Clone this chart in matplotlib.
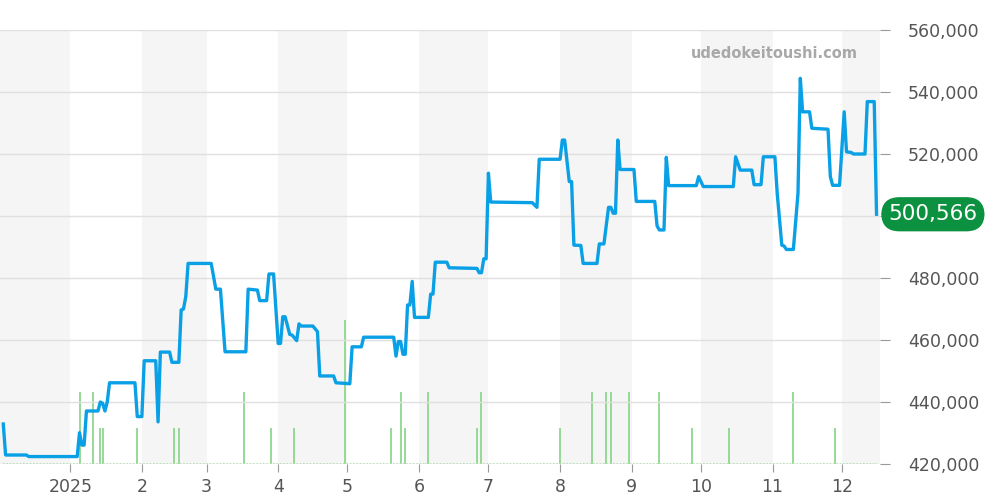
import matplotlib
matplotlib.use('Agg')
import matplotlib.pyplot as plt
import numpy as np
import pandas as pd

# price history
price_dates = [
    '2024-12-03', '2024-12-04', '2024-12-13', '2024-12-14', '2025-01-04', '2025-01-05',
    '2025-01-06', '2025-01-07', '2025-01-08', '2025-01-13', '2025-01-14', '2025-01-15',
    '2025-01-16', '2025-01-17', '2025-01-18', '2025-01-29', '2025-01-30', '2025-02-01',
    '2025-02-02', '2025-02-07', '2025-02-08', '2025-02-09', '2025-02-13', '2025-02-14',
    '2025-02-17', '2025-02-18', '2025-02-19', '2025-02-20', '2025-02-21', '2025-03-03',
    '2025-03-05', '2025-03-07', '2025-03-09', '2025-03-18', '2025-03-19', '2025-03-23',
    '2025-03-24', '2025-03-27', '2025-03-28', '2025-03-30', '2025-04-01', '2025-04-02',
    '2025-04-03', '2025-04-04', '2025-04-06', '2025-04-07', '2025-04-09', '2025-04-10',
    '2025-04-11', '2025-04-16', '2025-04-18', '2025-04-19', '2025-04-25', '2025-04-26',
    '2025-05-02', '2025-05-03', '2025-05-07', '2025-05-08', '2025-05-21', '2025-05-22',
    '2025-05-23', '2025-05-24', '2025-05-25', '2025-05-26', '2025-05-27', '2025-05-28',
    '2025-05-29', '2025-05-30', '2025-06-05', '2025-06-06', '2025-06-07', '2025-06-08',
    '2025-06-13', '2025-06-14', '2025-06-26', '2025-06-27', '2025-06-28', '2025-06-29',
    '2025-06-30', '2025-07-01', '2025-07-02', '2025-07-20', '2025-07-22', '2025-07-23',
    '2025-08-01', '2025-08-02', '2025-08-03', '2025-08-05', '2025-08-06', '2025-08-07',
    '2025-08-10', '2025-08-11', '2025-08-17', '2025-08-18', '2025-08-20', '2025-08-22',
    '2025-08-23', '2025-08-24', '2025-08-25', '2025-08-26', '2025-08-27', '2025-09-02',
    '2025-09-03', '2025-09-11', '2025-09-12', '2025-09-13', '2025-09-15', '2025-09-16',
    '2025-09-17', '2025-09-29', '2025-09-30', '2025-10-02', '2025-10-15', '2025-10-16',
    '2025-10-18', '2025-10-23', '2025-10-24', '2025-10-27', '2025-10-28', '2025-11-02',
    '2025-11-03', '2025-11-05', '2025-11-06', '2025-11-07', '2025-11-10', '2025-11-12',
    '2025-11-13', '2025-11-14', '2025-11-17', '2025-11-18', '2025-11-25', '2025-11-26',
    '2025-11-27', '2025-11-30', '2025-12-02', '2025-12-03', '2025-12-05', '2025-12-06',
    '2025-12-11', '2025-12-12', '2025-12-15', '2025-12-16',
]
prices = [
    432900, 422900, 422900, 422400, 422400, 430100,
    426100, 426100, 437100, 437100, 440000, 439600,
    437100, 440000, 446200, 446200, 435300, 435300,
    453300, 453300, 433600, 456100, 456100, 452800,
    452800, 469700, 470000, 474000, 484700, 484700,
    476400, 476400, 456200, 456200, 476400, 476100,
    472700, 472700, 481300, 481300, 458900, 458900,
    467500, 467500, 461800, 461600, 459800, 465200,
    464500, 464500, 462700, 448400, 448400, 446200,
    445900, 457800, 457800, 460900, 460900, 454800,
    459500, 459500, 455400, 455400, 471300, 471300,
    478900, 467300, 467300, 474800, 474800, 485100,
    485100, 483300, 483100, 481700, 481700, 486200,
    486200, 513800, 504500, 504300, 502800, 518300,
    518300, 524500, 524500, 511100, 511100, 490600,
    490500, 484700, 484700, 491000, 491000, 502800,
    502800, 500900, 500900, 524500, 515000, 515000,
    504700, 504700, 496800, 495500, 495500, 518900,
    509800, 509800, 512700, 509500, 509500, 519100,
    514800, 514800, 510100, 510100, 519100, 519100,
    507300, 490600, 490300, 489200, 489200, 507300,
    544400, 533600, 533600, 528300, 528000, 512700,
    509900, 509900, 533600, 520700, 520500, 520000,
    520000, 536900, 536900, 500566,
]

# number of trades per day
volume_dates = [
    '2025-01-05', '2025-01-11', '2025-01-14', '2025-01-15', '2025-01-30', '2025-02-15',
    '2025-02-17', '2025-03-17', '2025-03-29', '2025-04-08', '2025-04-30', '2025-05-20',
    '2025-05-24', '2025-05-26', '2025-06-05', '2025-06-26', '2025-06-28', '2025-08-01',
    '2025-08-15', '2025-08-21', '2025-08-23', '2025-08-31', '2025-09-13', '2025-09-27',
    '2025-10-13', '2025-11-10', '2025-11-28',
]
volumes = [2, 2, 1, 1, 1, 1, 1, 2, 1, 1, 4, 1, 2, 1, 2, 1, 2, 1, 2, 2, 2, 2, 2, 1, 1, 2, 1]

month_starts = pd.date_range('2024-12-01', '2026-01-01', freq='MS')
tick_dates = pd.date_range('2025-01-01', '2025-12-01', freq='MS')
tick_labels = ['2025', '2', '3', '4', '5', '6', '7', '8', '9', '10', '11', '12']
y_ticks = [420000, 440000, 460000, 480000, 500000, 520000, 540000, 560000]

pdates = pd.to_datetime(price_dates)
vdates = pd.to_datetime(volume_dates)
last = prices[-1]

fig = plt.figure(figsize=(10, 5), dpi=100)
ax2 = fig.add_axes([0.0, 0.072, 0.88, 0.868])
ax = ax2.twinx()

# month bands + volume on the back axes
for i in range(0, len(month_starts) - 1, 2):
    ax2.axvspan(month_starts[i], month_starts[i + 1], color='#f5f5f5', lw=0, zorder=0)
ax2.vlines(vdates, 0, volumes, color='#8fd68f', lw=1.3, zorder=2)
ax2.plot([pdates[0], pdates[-1]], [0, 0], color='#a8dca8', lw=1.2, ls=(0, (1, 1)), zorder=2)
ax2.set_ylim(0, 12.06)
ax2.set_yticks([])
for s in ax2.spines.values():
    s.set_visible(False)

# price line on front axes
ax.set_zorder(ax2.get_zorder() + 1)
ax.patch.set_visible(False)
ax.plot(pdates, prices, color='#0aa0e6', lw=2.4, solid_joinstyle='round', zorder=3)
ax.set_ylim(420000, 560000)
ax.set_yticks(y_ticks)
# the tick label under the last-value badge is hidden by it in the original
ax.set_yticklabels(['' if abs(v - last) < 8000 else '{:,}'.format(v) for v in y_ticks])
ax.grid(axis='y', color='#e0e0e0', lw=1)
ax.set_axisbelow(True)
for s in ax.spines.values():
    s.set_visible(False)

ax.set_xlim(pd.Timestamp('2024-12-01 14:00'), pd.Timestamp('2025-12-17 12:00'))
ax2.set_xticks(tick_dates)
ax2.set_xticklabels(tick_labels)
ax2.tick_params(axis='x', colors='#999999', labelcolor='#555555', labelsize=12.5, length=6, pad=4)
ax.tick_params(axis='y', colors='#999999', labelcolor='#555555', labelsize=12.5, length=7, pad=13)

# watermark
ax.text(0.975, 0.945, 'udedokeitoushi.com', transform=ax.transAxes, ha='right', va='center',
        fontsize=10.5, fontweight='bold', color='#a8a8a8')

# last value badge
ax.annotate('{:,}'.format(last), xy=(1.0, last), xycoords=('axes fraction', 'data'),
            xytext=(6, 0), textcoords='offset points', ha='left', va='center',
            fontsize=15.5, color='white',
            bbox=dict(boxstyle='round,pad=0.33,rounding_size=0.85', fc='#0c9140', ec='none'))

fig.savefig('out.png', dpi=100)
